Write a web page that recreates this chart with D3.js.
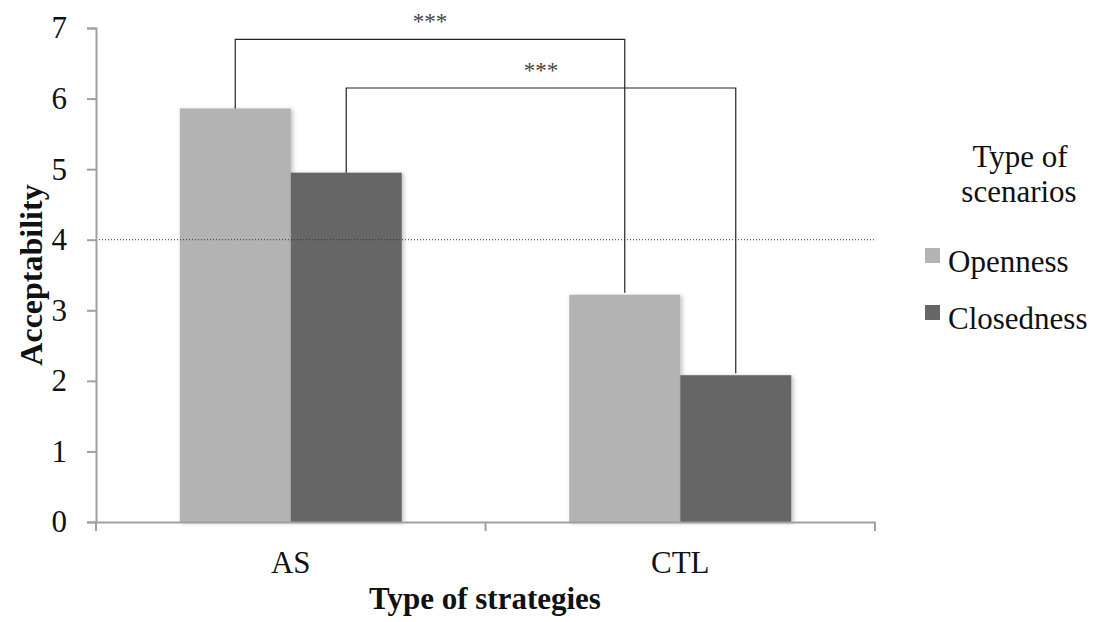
<!DOCTYPE html>
<html>
<head>
<meta charset="utf-8">
<script src="https://cdn.jsdelivr.net/npm/d3@7"></script>
<style>
  body { margin: 0; background: #fff; }
  svg { display: block; }
  text { font-family: "Liberation Serif", "Times New Roman", serif; fill: #111; }
</style>
</head>
<body>
<svg id="chart" width="1110" height="622"></svg>
<script>
// data
var strategies = ["AS", "CTL"]
var scenarios = ["Openness", "Closedness"]
var openness = [5.86, 3.22]
var closedness = [4.95, 2.08]
var yTicks = [0, 1, 2, 3, 4, 5, 6, 7]
var refLine = 4
var brackets = [
  { series: "Openness", level: 6.84, label: "***" },
  { series: "Closedness", level: 6.15, label: "***" }
]
var colors = { Openness: "#b3b3b3", Closedness: "#666666" }

var svg = d3.select("#chart")

var plotLeft = 96, plotRight = 875, plotTop = 28, plotBottom = 522

var x = d3.scaleBand().domain(strategies).range([plotLeft, plotRight]).paddingInner(0).paddingOuter(0)
var xs = d3.scaleBand().domain(scenarios).range([0, x.bandwidth()]).paddingInner(0).paddingOuter(0.7545)
var y = d3.scaleLinear().domain([0, 7]).range([plotBottom, plotTop])

var rows = []
strategies.forEach(function(s, i){
  rows.push({ strategy: s, series: "Openness", value: openness[i] })
  rows.push({ strategy: s, series: "Closedness", value: closedness[i] })
})

function barX(d){ return x(d.strategy) + xs(d.series) }
function barMid(s, series){ return x(s) + xs(series) + xs.bandwidth() / 2 }
function valueOf(s, series){
  var i = strategies.indexOf(s)
  return series == "Openness" ? openness[i] : closedness[i]
}

// soft shadow like the office chart
var defs = svg.append("defs")
var f = defs.append("filter").attr("id", "shadow")
  .attr("x", "-10%").attr("y", "-10%").attr("width", "130%").attr("height", "130%")
f.append("feDropShadow").attr("dx", 2).attr("dy", 1).attr("stdDeviation", 2)
  .attr("flood-color", "#000").attr("flood-opacity", 0.25)

// bars
svg.append("g").selectAll("rect").data(rows).enter()
  .append("rect")
  .attr("x", barX)
  .attr("y", function(d){ return y(d.value) })
  .attr("width", xs.bandwidth())
  .attr("height", function(d){ return y(0) - y(d.value) })
  .attr("fill", function(d){ return colors[d.series] })
  .attr("filter", "url(#shadow)")

// dotted reference line
svg.append("line")
  .attr("x1", plotLeft).attr("x2", plotRight)
  .attr("y1", y(refLine)).attr("y2", y(refLine))
  .attr("stroke", "#333").attr("stroke-width", 1)
  .attr("stroke-dasharray", "1,2")

// y axis
var yAxis = svg.append("g")
  .attr("transform", "translate(" + plotLeft + ",0)")
  .call(d3.axisLeft(y).tickValues(yTicks).tickSize(9).tickPadding(20).tickFormat(d3.format("d")))
yAxis.select(".domain").attr("stroke", "#a0a0a0").attr("stroke-width", 2)
yAxis.selectAll(".tick line").attr("stroke", "#a0a0a0").attr("stroke-width", 2)
yAxis.selectAll(".tick text")
  .style("font-family", "'Liberation Serif', serif")
  .style("font-size", "31px").attr("fill", "#111")

// x axis
var xAxis = svg.append("g")
  .attr("transform", "translate(0," + plotBottom + ")")
  .call(d3.axisBottom(x).tickSize(0).tickPadding(0))
xAxis.select(".domain").attr("stroke", "#a0a0a0").attr("stroke-width", 2)
xAxis.selectAll(".tick text")
  .attr("dy", 0).attr("y", 51)
  .style("font-family", "'Liberation Serif', serif")
  .style("font-size", "31px").attr("fill", "#111")
// boundary ticks between categories
var edges = [plotLeft, x(strategies[1]), plotRight]
xAxis.selectAll(".edge").data(edges).enter()
  .append("line").attr("class", "edge")
  .attr("x1", function(d){ return d }).attr("x2", function(d){ return d })
  .attr("y1", 0).attr("y2", 9)
  .attr("stroke", "#a0a0a0").attr("stroke-width", 2)

// significance brackets
var bg = svg.append("g")
brackets.forEach(function(b){
  var x1 = barMid(strategies[0], b.series), x2 = barMid(strategies[1], b.series)
  var yTop = y(b.level)
  var path = d3.path()
  path.moveTo(x1, y(valueOf(strategies[0], b.series)))
  path.lineTo(x1, yTop)
  path.lineTo(x2, yTop)
  path.lineTo(x2, y(valueOf(strategies[1], b.series)) - 2)
  bg.append("path").attr("d", path.toString())
    .attr("fill", "none").attr("stroke", "#222").attr("stroke-width", 1.2)
  bg.append("text")
    .attr("x", (x1 + x2) / 2).attr("y", yTop - 10)
    .attr("text-anchor", "middle")
    .style("font-size", "23px").style("fill", "#444")
    .text(b.label)
})

// axis titles
svg.append("text")
  .attr("transform", "translate(42,275) rotate(-90)")
  .attr("text-anchor", "middle")
  .style("font-size", "32px").style("font-weight", "bold")
  .text("Acceptability")

svg.append("text")
  .attr("x", 485).attr("y", 609)
  .attr("text-anchor", "middle")
  .style("font-size", "31px").style("font-weight", "bold")
  .text("Type of strategies")

// legend
var lg = svg.append("g")
lg.append("text").attr("x", 1020).attr("y", 167).attr("text-anchor", "middle")
  .style("font-size", "31px").text("Type of")
lg.append("text").attr("x", 1019).attr("y", 202).attr("text-anchor", "middle")
  .style("font-size", "31px").text("scenarios")

var items = lg.selectAll(".item").data(scenarios).enter()
  .append("g").attr("class", "item")
  .attr("transform", function(d, i){ return "translate(925," + (248 + i * 57) + ")" })
items.append("rect").attr("width", 15).attr("height", 15)
  .attr("fill", function(d){ return colors[d] })
items.append("text").attr("x", 23).attr("y", 24)
  .style("font-size", "31px").text(function(d){ return d })
</script>
</body>
</html>
